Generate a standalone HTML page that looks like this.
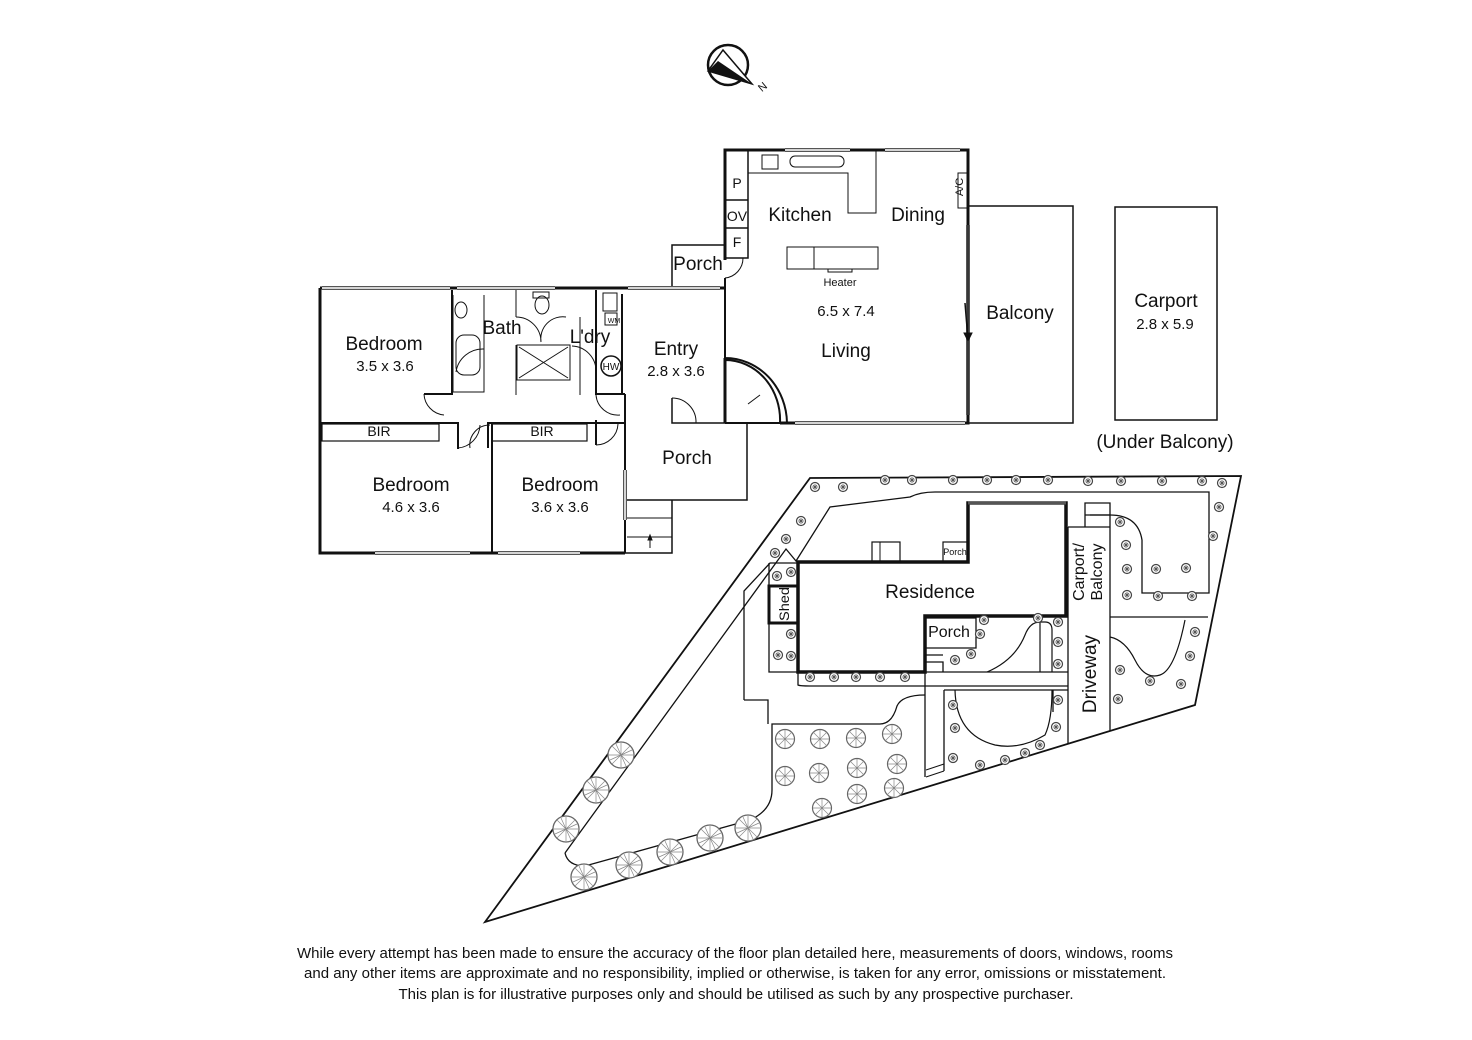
<!DOCTYPE html>
<html><head><meta charset="utf-8"><style>
html,body{margin:0;padding:0;background:#fff;}
svg{display:block;}
text{font-family:"Liberation Sans Narrow","Liberation Sans",sans-serif;fill:#111;}
</style></head><body>
<svg width="1472" height="1040" viewBox="0 0 1472 1040" xmlns="http://www.w3.org/2000/svg">
<defs>
<g id="ts"><circle r="4.5" fill="#fff" stroke="#444" stroke-width="1.2"/><path d="M-3,0H3M0,-3V3M-2,-2L2,2M2,-2L-2,2" stroke="#555" stroke-width="0.8"/></g>
<g id="tb"><circle r="13" fill="#fff" stroke="#666" stroke-width="1.3"/><path d="M-12,0H12M0,-12V12M-9,-9L9,9M9,-9L-9,9M-5,-11L5,11M11,-5L-11,5" stroke="#888" stroke-width="0.7"/></g>
<g id="tm"><circle r="9.5" fill="#fff" stroke="#666" stroke-width="1.2"/><path d="M-9,0H9M0,-9V9M-7,-7L7,7M7,-7L-7,7" stroke="#888" stroke-width="0.7"/></g>
</defs>

<circle cx="728" cy="65" r="20" fill="none" stroke="#111" stroke-width="2.5"/>
<polygon points="723,50 752,84 708,71" fill="#fff" stroke="#111" stroke-width="1.5"/>
<polygon points="718,61 752,84 708,71" fill="#111"/>
<text x="760" y="93" font-size="11" transform="rotate(-40 760 90)">N</text>

<g fill="none" stroke="#111">
<path d="M725,260 V150 H968 V423 H780" stroke-width="3"/>
<path d="M725,150 V258 H748 V150" stroke-width="1.5"/>
<path d="M725,200 H748 M725,228 H748" stroke-width="1.5"/>
<path d="M748,173 H848 V213 H876 V150" stroke-width="1"/>
<rect x="762" y="155" width="16" height="14" stroke-width="1"/>
<rect x="790" y="156" width="54" height="11" rx="5" stroke-width="1"/>
<rect x="787" y="247" width="91" height="22" stroke-width="1"/>
<path d="M814,247 V269" stroke-width="1"/>
<rect x="828" y="269" width="24" height="3" stroke-width="1"/>
<rect x="958" y="173" width="10" height="35" stroke-width="1"/>
<path d="M785,150 H850 M885,150 H960 M795,423 H965 M968,225 V415" stroke="#555" stroke-width="4"/>
<path d="M785,150 H850 M885,150 H960 M795,423 H965 M968,225 V415" stroke="#fff" stroke-width="1.5"/>
<path d="M965,303 L968,340" stroke-width="1.5"/>
<polygon points="964,333 972,333 968,341" fill="#111"/>
<path d="M672,288 V245 H725" stroke-width="1.5"/>
<path d="M743,258 A20,20 0 0 1 725,278" stroke-width="1"/>
<path d="M320,288 V553 H625 M320,288 H725 V288" stroke-width="3"/>
<path d="M725,278 V423 M725,360 A55,60 0 0 1 780,423 M725,358 A62,66 0 0 1 787,423" stroke-width="2"/>
<path d="M725,423 H780" stroke-width="2"/>
<path d="M725,358 V423" stroke-width="3"/>
<path d="M760,395 L748,404" stroke-width="1"/>
<path d="M322,288 H450 M457,288 H555 M628,288 H720" stroke="#555" stroke-width="4"/>
<path d="M322,288 H450 M457,288 H555 M628,288 H720" stroke="#fff" stroke-width="1.5"/>
<path d="M375,553 H470 M498,553 H580" stroke="#555" stroke-width="4"/>
<path d="M375,553 H470 M498,553 H580" stroke="#fff" stroke-width="1.5"/>
<path d="M452,290 V394 H424" stroke-width="2"/>
<path d="M453,295 V392 H484 V295 M516,290 V317 M516,345 V395 M580,345 V395 M580,317 V345" stroke-width="1"/>
<rect x="517" y="345" width="53" height="35" stroke-width="1"/>
<path d="M519,347 L568,378 M568,347 L519,378" stroke-width="1"/>
<rect x="456" y="335" width="24" height="40" rx="8" stroke-width="1"/>
<ellipse cx="461" cy="310" rx="6" ry="8" stroke-width="1"/>
<ellipse cx="542" cy="305" rx="7" ry="9" stroke-width="1"/>
<rect x="533" y="292" width="16" height="6" stroke-width="1"/>
<path d="M596,290 V394 H625 M622,294 V394" stroke-width="2"/>
<rect x="603" y="293" width="14" height="18" stroke-width="1"/>
<rect x="605" y="313" width="12" height="12" stroke-width="1"/>
<circle cx="611" cy="366" r="10" stroke-width="1.5"/>
<path d="M516,317 A25,25 0 0 1 541,342 M566,317 A22,22 0 0 0 541,342 M484,349 A27,27 0 0 0 456,372 M572,346 A25,25 0 0 1 596,371" stroke-width="1"/>
<path d="M424,394 A22,22 0 0 0 444,415 M596,395 A22,22 0 0 0 620,415" stroke-width="1"/>
<path d="M320,423 H458 V448 M488,448 V423 H625 M458,423 V449 M596,420 V445" stroke-width="2"/>
<path d="M625,394 V553" stroke-width="2"/>
<path d="M672,398 V423 H747 V500 H627 M672,500 V553 H625" stroke-width="1.5"/>
<path d="M672,398 A24,24 0 0 1 696,423" stroke-width="1"/>
<path d="M458,448 A24,24 0 0 0 480,425 M490,425 A20,20 0 0 0 470,448 M596,445 A22,22 0 0 0 618,424" stroke-width="1"/>
<rect x="322" y="424" width="117" height="17" stroke-width="1.2"/>
<rect x="492" y="424" width="95" height="17" stroke-width="1.2"/>
<path d="M492,423 V553" stroke-width="2"/>
<path d="M625,470 V520" stroke="#555" stroke-width="4"/><path d="M625,470 V520" stroke="#fff" stroke-width="1.5"/>
<path d="M627,518 H672 M627,537 H672 M650,548 V537" stroke-width="1"/>
<polygon points="648,540 652,540 650,535" fill="#111"/>

<rect x="968" y="206" width="105" height="217" stroke-width="1.5"/>
<rect x="1115" y="207" width="102" height="213" stroke-width="1.5"/>

<polygon points="485,922 810,478 1241,476 1195,705" stroke-width="1.8"/>
<path d="M565,853 L786,549 L796,561 L830,507 L910,497 Q920,492 935,492 H1209 V593 H1142 V540 Q1138,515 1110,515 H1090" stroke-width="1.3"/>
<path d="M565,853 Q568,866 585,866 L750,820 Q772,810 772,790 V724 H880 Q892,724 897,706 Q902,695 925,695" stroke-width="1.3"/>
<path d="M744,700 V591 L770,563 H797 M744,700 H768 V724" stroke-width="1.3"/>
<path d="M769,563 V672 H798" stroke-width="1.3"/>
<path d="M798,672 V685 Q800,686 810,686 H925" stroke-width="1.3"/>
<path d="M925,672 V777 M944,690 V771 M925,672 H1068 M925,686 H1068 M944,690 H1068 M1053,690 V712" stroke-width="1.3"/>
<path d="M1068,527 V744 M1110,527 V731 M1068,527 H1110 M1110,617 H1208 M1085,527 V503 H1110 V527 M1085,515 H1110" stroke-width="1.3"/>
<path d="M1040,617 V672 M987,672 Q1015,660 1025,635 Q1030,622 1040,622 H1045 Q1052,622 1052,630 V672" stroke-width="1.2"/>
<path d="M955,690 Q956,735 995,745 Q1020,750 1045,735 Q1052,720 1052,690" stroke-width="1.2"/>
<path d="M1110,637 Q1125,640 1135,660 Q1145,680 1160,675 Q1175,670 1185,620" stroke-width="1.2"/>
<path d="M798,562 H968 V503 H1066 V616 H925 V672 H798 Z" stroke-width="3.5"/>
<rect x="769" y="586" width="29" height="37" stroke-width="3"/>
<path d="M925,618 H976 V648 H925 M925,655 H943 M925,662 H943 V672" stroke-width="1.3"/>
<rect x="872" y="542" width="28" height="20" stroke-width="1.2"/>
<path d="M880,542 V562" stroke-width="1"/>
<rect x="943" y="542" width="25" height="20" stroke-width="1.2"/>
<path d="M968,503 H1066" stroke="#555" stroke-width="3"/>
<path d="M926,770 L944,764 M926,777 L944,771" stroke-width="1"/>
</g>

<g>
<use href="#ts" x="815" y="487"/><use href="#ts" x="843" y="487"/><use href="#ts" x="885" y="480"/><use href="#ts" x="912" y="480"/><use href="#ts" x="953" y="480"/><use href="#ts" x="987" y="480"/><use href="#ts" x="1016" y="480"/><use href="#ts" x="1048" y="480"/><use href="#ts" x="1088" y="481"/><use href="#ts" x="1121" y="481"/><use href="#ts" x="1162" y="481"/><use href="#ts" x="1202" y="481"/>
<use href="#ts" x="801" y="521"/><use href="#ts" x="786" y="539"/><use href="#ts" x="775" y="553"/>
<use href="#ts" x="1222" y="483"/><use href="#ts" x="1219" y="507"/><use href="#ts" x="1213" y="536"/>
<use href="#ts" x="1120" y="522"/><use href="#ts" x="1126" y="545"/><use href="#ts" x="1127" y="569"/><use href="#ts" x="1156" y="569"/><use href="#ts" x="1186" y="568"/><use href="#ts" x="1127" y="595"/><use href="#ts" x="1158" y="596"/><use href="#ts" x="1192" y="596"/>
<use href="#ts" x="1195" y="632"/><use href="#ts" x="1190" y="656"/><use href="#ts" x="1181" y="684"/><use href="#ts" x="1120" y="670"/><use href="#ts" x="1150" y="681"/><use href="#ts" x="1118" y="699"/>
<use href="#ts" x="777" y="576"/><use href="#ts" x="791" y="572"/><use href="#ts" x="791" y="634"/><use href="#ts" x="778" y="655"/><use href="#ts" x="791" y="656"/>
<use href="#ts" x="810" y="677"/><use href="#ts" x="834" y="677"/><use href="#ts" x="856" y="677"/><use href="#ts" x="880" y="677"/><use href="#ts" x="905" y="677"/>
<use href="#ts" x="984" y="620"/><use href="#ts" x="1038" y="618"/><use href="#ts" x="980" y="634"/><use href="#ts" x="971" y="654"/><use href="#ts" x="955" y="660"/>
<use href="#ts" x="1058" y="622"/><use href="#ts" x="1058" y="642"/><use href="#ts" x="1058" y="664"/>
<use href="#ts" x="1058" y="700"/><use href="#ts" x="1056" y="727"/><use href="#ts" x="1040" y="745"/><use href="#ts" x="1025" y="753"/><use href="#ts" x="1005" y="760"/><use href="#ts" x="980" y="765"/><use href="#ts" x="955" y="728"/><use href="#ts" x="953" y="758"/><use href="#ts" x="953" y="705"/>
</g>
<g>
<use href="#tm" x="785" y="739"/><use href="#tm" x="820" y="739"/><use href="#tm" x="856" y="738"/><use href="#tm" x="892" y="734"/>
<use href="#tm" x="785" y="776"/><use href="#tm" x="819" y="773"/><use href="#tm" x="857" y="768"/><use href="#tm" x="897" y="764"/>
<use href="#tm" x="822" y="808"/><use href="#tm" x="857" y="794"/><use href="#tm" x="894" y="788"/>
<use href="#tb" x="621" y="755"/><use href="#tb" x="596" y="790"/><use href="#tb" x="566" y="829"/>
<use href="#tb" x="584" y="877"/><use href="#tb" x="629" y="865"/><use href="#tb" x="670" y="852"/><use href="#tb" x="710" y="838"/><use href="#tb" x="748" y="828"/>
</g>

<g font-size="19" text-anchor="middle">
<text x="800" y="221">Kitchen</text>
<text x="918" y="221">Dining</text>
<text x="698" y="270">Porch</text>
<text x="846" y="357">Living</text>
<text x="384" y="350">Bedroom</text>
<text x="502" y="334">Bath</text>
<text x="590" y="343">L'dry</text>
<text x="676" y="355">Entry</text>
<text x="1020" y="319">Balcony</text>
<text x="1166" y="307">Carport</text>
<text x="1165" y="448">(Under Balcony)</text>
<text x="411" y="491">Bedroom</text>
<text x="560" y="491">Bedroom</text>
<text x="687" y="464">Porch</text>
<text x="930" y="598">Residence</text>
</g>
<g font-size="15" text-anchor="middle">
<text x="385" y="371">3.5 x 3.6</text>
<text x="676" y="376">2.8 x 3.6</text>
<text x="846" y="316">6.5 x 7.4</text>
<text x="1165" y="329">2.8 x 5.9</text>
<text x="411" y="512">4.6 x 3.6</text>
<text x="560" y="512">3.6 x 3.6</text>
<text x="949" y="637" font-size="16">Porch</text>
</g>
<g font-size="14" text-anchor="middle">
<text x="379" y="436">BIR</text>
<text x="542" y="436">BIR</text>
<text x="737" y="188">P</text>
<text x="737" y="221">OV</text>
<text x="737" y="247">F</text>
</g>
<text x="840" y="286" font-size="11" text-anchor="middle">Heater</text>
<text x="611" y="370" font-size="10" text-anchor="middle">HW</text>
<text x="614" y="323" font-size="7" text-anchor="middle">WM</text>
<text x="955" y="555" font-size="9" text-anchor="middle">Porch</text>
<text font-size="11" text-anchor="middle" transform="translate(963,187) rotate(-90)">A/C</text>
<text font-size="14" text-anchor="middle" transform="translate(789,604) rotate(-90)" textLength="34" lengthAdjust="spacingAndGlyphs">Shed</text>
<text font-size="16" text-anchor="middle" transform="translate(1084,572) rotate(-90)">Carport/</text>
<text font-size="16" text-anchor="middle" transform="translate(1102,572) rotate(-90)">Balcony</text>
<text font-size="19" text-anchor="middle" transform="translate(1096,674) rotate(-90)">Driveway</text>

<g font-size="15" text-anchor="middle">
<text x="735" y="958" textLength="876" lengthAdjust="spacingAndGlyphs">While every attempt has been made to ensure the accuracy of the floor plan detailed here, measurements of doors, windows, rooms</text>
<text x="735" y="978" textLength="862" lengthAdjust="spacingAndGlyphs">and any other items are approximate and no responsibility, implied or otherwise, is taken for any error, omissions or misstatement.</text>
<text x="736" y="999" textLength="675" lengthAdjust="spacingAndGlyphs">This plan is for illustrative purposes only and should be utilised as such by any prospective purchaser.</text>
</g>
</svg>
</body></html>
